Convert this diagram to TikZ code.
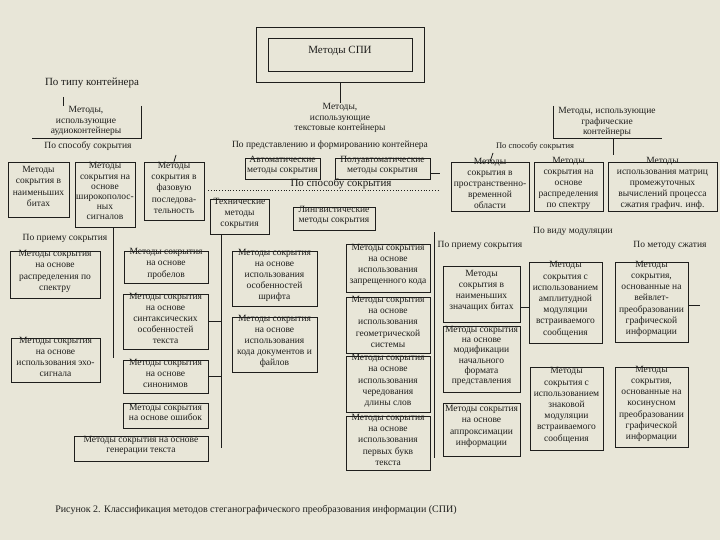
\documentclass[tikz,border=0pt]{standalone}
\usepackage{fontspec}
\setmainfont{Liberation Serif}
\usetikzlibrary{fit}
\definecolor{bgc}{RGB}{232,230,216}
\definecolor{ink}{RGB}{30,30,28}
\tikzset{
  bxs/.style={draw=ink, line width=0.8pt, inner sep=0pt, align=center, text=ink, font=\fontsize{9.5}{11.2}\selectfont},
  tight/.style={font=\fontsize{9.5}{10.2}\selectfont},
  lbl/.style={inner sep=0pt, align=center, text=ink, font=\fontsize{9.5}{10.8}\selectfont},
  big/.style={font=\fontsize{11}{12}\selectfont},
  ln/.style={draw=ink, line width=0.8pt},
}
\newcommand\bxn[4]{\node[bxs, fit={#2 #3}] (#1) {#4};}
\newcommand\bxt[4]{\node[bxs, tight, fit={#2 #3}] (#1) {#4};}
\begin{document}
\begin{tikzpicture}[x=1pt,y=-1pt]
\fill[bgc] (0,0) rectangle (720,540);
\useasboundingbox (0,0) rectangle (720,540);

% top
\node[bxs, fit={(256,27) (424,82)}] (spiouter) {};
\node[bxs, big, fit={(268,38) (412,71)}] (spi) {Методы СПИ};
\node[lbl] (txtcont) at (340,118) {Методы,\\использующие\\текстовые контейнеры};
\draw[ln] (spiouter.south) -- (txtcont.north);

\node[lbl, big] (typecont) at (92,83) {По типу контейнера};
\node[lbl] (audio) at (86,121) {Методы,\\использующие\\аудиоконтейнеры};
\coordinate (au1) at (63,97);
\coordinate (au2) at (141,106);
\coordinate (au3) at (32,138);
\draw[ln] (au1) -- (au1 |- audio.north);
\draw[ln] (au2) -- (au2 |- au3) -- (au3);

\node[lbl] (graph) at (607,122) {Методы, использующие\\графические\\контейнеры};
\coordinate (gr1) at (553,106);
\coordinate (gr2) at (662,138);
\coordinate (gr3) at (613,155);
\draw[ln] (gr1) -- (gr1 |- gr2) -- (gr2);
\draw[ln] (gr3 |- gr2) -- (gr3);

\node[lbl] (predst) at (330,145) {По представлению и формированию контейнера};
\node[lbl] (spos1) at (88,146) {По способу сокрытия};
\node[lbl, font=\fontsize{8.5}{10}\selectfont] (spos3) at (535,146) {По способу сокрытия};

% audio boxes
\bxn{A}{(8,162)}{(69,217)}{Методы\\сокрытия в\\наименьших\\битах}
\bxt{B}{(75,162)}{(135,227)}{Методы\\сокрытия на\\основе\\широкополос-\\ных\\сигналов}
\bxn{C}{(144,162)}{(204,220)}{Методы\\сокрытия в\\фазовую\\последова-\\тельность}
\coordinate (cT) at (176,155);
\draw[ln] (C.north) -- (cT);
\coordinate (bL) at (113,358);
\draw[ln] (bL |- B.south) -- (bL);

\node[lbl] (prm1) at (65,238) {По приему сокрытия};
\bxn{D}{(10,251)}{(100,298)}{Методы сокрытия\\на основе\\распределения по\\спектру}
\bxn{E}{(11,338)}{(100,382)}{Методы сокрытия\\на основе\\использования эхо-\\сигнала}

% text containers
\bxt{Auto}{(245,158)}{(320,179)}{Автоматические\\методы сокрытия}
\bxt{Semi}{(335,158)}{(430,179)}{Полуавтоматические\\методы сокрытия}
\coordinate (semiE) at (440,173);
\draw[ln] (Semi.east |- semiE) -- (semiE);
\node[lbl, big] (spos2) at (341,184) {По способу сокрытия};
\coordinate (dot1) at (208,190);
\coordinate (dot2) at (438,190);
\draw[ink, line width=0.8pt, dotted] (dot1) -- (dot2);

\bxn{Tech}{(210,199)}{(269,234)}{Технические\\методы\\сокрытия}
\bxt{Ling}{(293,207)}{(375,230)}{Лингвистические\\методы сокрытия}

\bxn{F}{(124,251)}{(208,283)}{Методы сокрытия\\на основе\\пробелов}
\bxn{G}{(123,294)}{(208,349)}{Методы сокрытия\\на основе\\синтаксических\\особенностей\\текста}
\bxn{H}{(123,360)}{(208,393)}{Методы сокрытия\\на основе\\синонимов}
\bxt{I}{(123,403)}{(208,428)}{Методы сокрытия\\на основе ошибок}
\bxt{J}{(74,436)}{(208,461)}{Методы сокрытия на основе\\генерации текста}
\coordinate (vT) at (221,448);
\draw[ln] (vT |- Tech.south) -- (vT);
\draw[ln] (G.east) -- (G.east -| vT);
\draw[ln] (H.east) -- (H.east -| vT);

\bxn{K}{(232,251)}{(317,306)}{Методы сокрытия\\на основе\\использования\\особенностей\\шрифта}
\bxn{L}{(232,317)}{(317,372)}{Методы сокрытия\\на основе\\использования\\кода документов и\\файлов}

\bxn{M1}{(346,244)}{(430,292)}{Методы сокрытия\\на основе\\использования\\запрещенного кода}
\bxn{M2}{(346,297)}{(430,353)}{Методы сокрытия\\на основе\\использования\\геометрической\\системы}
\bxn{M3}{(346,356)}{(430,412)}{Методы сокрытия\\на основе\\использования\\чередования\\длины слов}
\bxn{M4}{(346,416)}{(430,470)}{Методы сокрытия\\на основе\\использования\\первых букв\\текста}

% graphic containers
\coordinate (n1T) at (493,153);
\bxn{N1}{(451,162)}{(529,211)}{Методы\\сокрытия в\\пространственно-\\временной\\области}
\draw[ln] (N1.north) -- (n1T);
\bxn{N2}{(534,162)}{(603,211)}{Методы\\сокрытия на\\основе\\распределения\\по спектру}
\bxn{N3}{(608,162)}{(717,211)}{Методы\\использования матриц\\промежуточных\\вычислений процесса\\сжатия графич. инф.}

\node[lbl] (vmod) at (573,231) {По виду модуляции};
\node[lbl] (prm2) at (480,245) {По приему сокрытия};
\node[lbl] (szh) at (670,245) {По методу сжатия};

\bxn{P1}{(443,266)}{(520,322)}{Методы\\сокрытия в\\наименьших\\значащих битах}
\bxt{P2}{(443,326)}{(520,392)}{Методы сокрытия\\на основе\\модификации\\начального\\формата\\представления}
\bxn{P3}{(443,403)}{(520,456)}{Методы сокрытия\\на основе\\аппроксимации\\информации}
\coordinate (pL1) at (434,232);
\coordinate (pL2) at (434,458);
\draw[ln] (pL1) -- (pL2);

\bxn{Q1}{(529,262)}{(602,343)}{Методы\\сокрытия с\\использованием\\амплитудной\\модуляции\\встраиваемого\\сообщения}
\bxn{Q2}{(530,367)}{(603,450)}{Методы\\сокрытия с\\использованием\\знаковой\\модуляции\\встраиваемого\\сообщения}
\bxn{R1}{(615,262)}{(688,342)}{Методы\\сокрытия,\\основанные на\\вейвлет-\\преобразовании\\графической\\информации}
\bxn{R2}{(615,367)}{(688,447)}{Методы\\сокрытия,\\основанные на\\косинусном\\преобразовании\\графической\\информации}
\coordinate (q1W) at (521,307);
\draw[ln] (Q1.west |- q1W) -- (q1W);
\coordinate (r1E) at (700,305);
\draw[ln] (R1.east |- r1E) -- (r1E);

% caption
\node[lbl, font=\fontsize{10}{12}\selectfont] (cap) at (256,510) {Рисунок 2. Классификация методов стеганографического преобразования информации (СПИ)};
\end{tikzpicture}
\end{document}
